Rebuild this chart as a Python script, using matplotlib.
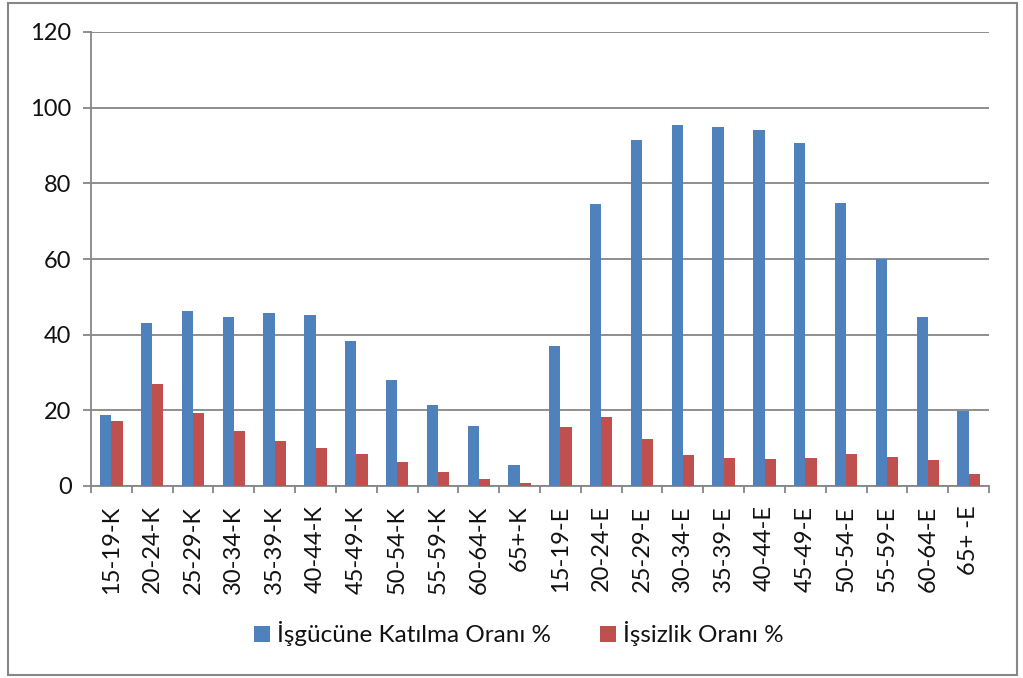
import matplotlib
matplotlib.use("Agg")
import matplotlib.pyplot as plt
import numpy as np
from matplotlib.patches import Rectangle

plt.rcParams['font.family'] = ['Lato', 'DejaVu Sans']

categories = ['15-19-K', '20-24-K', '25-29-K', '30-34-K', '35-39-K', '40-44-K',
              '45-49-K', '50-54-K', '55-59-K', '60-64-K', '65+-K',
              '15-19-E', '20-24-E', '25-29-E', '30-34-E', '35-39-E', '40-44-E',
              '45-49-E', '50-54-E', '55-59-E', '60-64-E', '65+ -E']
katilma = [18.8, 43.0, 46.3, 44.7, 45.6, 45.1, 38.2, 28.0, 21.3, 15.8, 5.5,
           37.1, 74.6, 91.4, 95.3, 95.0, 94.2, 90.7, 74.7, 60.0, 44.8, 19.9]
issizlik = [17.2, 26.9, 19.2, 14.5, 11.9, 10.0, 8.4, 6.4, 3.7, 1.85, 0.8,
            15.7, 18.3, 12.3, 8.1, 7.3, 7.1, 7.5, 8.4, 7.6, 7.0, 3.2]
series_names = ['İşgücüne Katılma Oranı %', 'İşsizlik Oranı %']

gray = '#868686'
blue = '#4F81BD'
red = '#C0504D'

fig = plt.figure(figsize=(10.23, 6.78), dpi=100)
ax = fig.add_axes([91 / 1023, 192 / 678, 898 / 1023, 454 / 678])

x = np.arange(len(categories))
w = 0.275
ax.bar(x - w / 2, katilma, w, color=blue, label=series_names[0], zorder=3)
ax.bar(x + w / 2, issizlik, w, color=red, label=series_names[1], zorder=3)

ax.set_xlim(-0.5, len(categories) - 0.5)
ax.set_ylim(0, 120)
ax.set_yticks(range(0, 121, 20))
ax.yaxis.grid(True, color=gray, linewidth=1.3, zorder=0)
ax.set_axisbelow(True)

ax.set_xticks(x)
ax.set_xticklabels(categories, rotation=90, fontsize=17, color='#111111')
ax.set_xticks(np.arange(-0.5, len(categories)), minor=True)
ax.tick_params(axis='x', which='major', length=0, pad=14)
ax.tick_params(axis='x', which='minor', length=5, color=gray, width=1.3)
ax.tick_params(axis='y', length=6, color=gray, width=1.3, labelsize=17,
               labelcolor='#111111', pad=8)

for s in ['top', 'right']:
    ax.spines[s].set_visible(False)
for s in ['left', 'bottom']:
    ax.spines[s].set_color(gray)
    ax.spines[s].set_linewidth(1.3)

leg = fig.legend(loc='center', bbox_to_anchor=(519 / 1023, 1 - 634 / 678), ncol=2,
                 frameon=False, fontsize=17.5, handlelength=0.65, handleheight=0.65,
                 handletextpad=0.3, columnspacing=2.0)
for t in leg.get_texts():
    t.set_color('#111111')

fig.patches.append(Rectangle((8 / 1023, 3 / 678), 1009 / 1023, 672 / 678,
                             transform=fig.transFigure, fill=False,
                             edgecolor=gray, linewidth=1.5))

fig.savefig('out.png', dpi=100)
